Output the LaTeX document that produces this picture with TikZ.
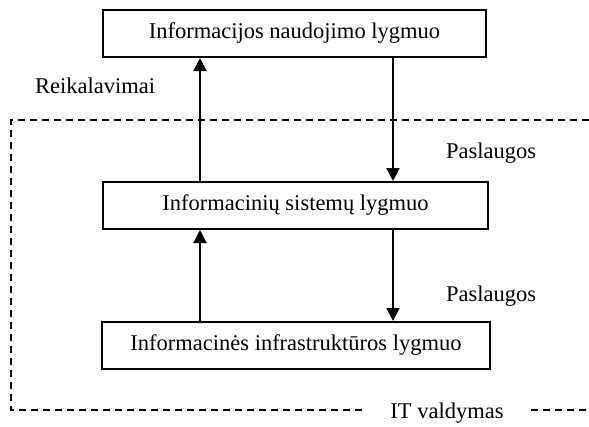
\documentclass[tikz,border=0pt]{standalone}
\usepackage{fontspec}
\setmainfont{Liberation Serif}
\usetikzlibrary{arrows.meta}
\begin{document}
\begin{tikzpicture}[x=1pt,y=-1pt,
  level/.style={draw,line width=2pt,minimum height=47pt,inner sep=0pt,font=\fontsize{22.5}{26}\selectfont},
  lbl/.style={inner sep=0pt,font=\fontsize{22.5}{26}\selectfont},
  flow/.style={line width=2pt,-{Triangle[length=13pt,width=13pt]}},
  border/.style={line width=2pt,dash pattern=on 7pt off 5pt}]
\useasboundingbox (0,0) rectangle (589,426);
\node[level,minimum width=383pt] (use) at (294.5,33.5) {Informacijos naudojimo lygmuo};
\node[level,minimum width=385pt] (sys) at (295.5,205.5) {Informacinių sistemų lygmuo};
\node[level,minimum width=388pt] (inf) at (296,345.5) {Informacinės infrastruktūros lygmuo};
\coordinate (ul) at (200,0);
\coordinate (ur) at (393,0);
\draw[flow] (sys.north -| ul) -- (use.south -| ul);
\draw[flow] (use.south -| ur) -- (sys.north -| ur);
\draw[flow] (inf.north -| ul) -- (sys.south -| ul);
\draw[flow] (sys.south -| ur) -- (inf.north -| ur);
\node[lbl] (req) at (95,86) {Reikalavimai};
\node[lbl] (srv1) at (491,153) {Paslaugos};
\node[lbl] (srv2) at (491,296) {Paslaugos};
\node[lbl] (itm) at (447,413) {IT valdymas};
\coordinate (tr) at (589,120);
\coordinate (tl) at (11,120);
\coordinate (bl) at (11,410);
\coordinate (be) at (589,410);
\draw[border] (tr) -- (tl) -- (bl) -- ([xshift=-28pt]itm.west |- bl);
\draw[border] ([xshift=27pt]itm.east |- be) -- (be);
\end{tikzpicture}
\end{document}
